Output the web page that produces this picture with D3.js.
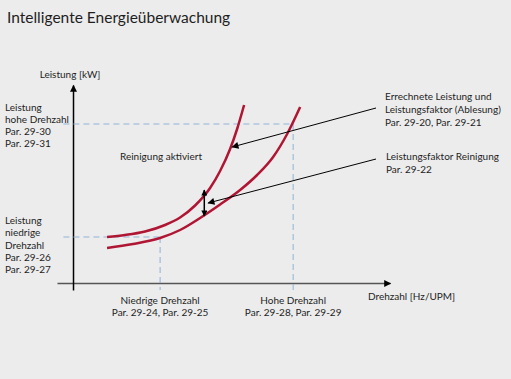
<!DOCTYPE html>
<html><head><meta charset="utf-8">
<script src="https://cdn.jsdelivr.net/npm/d3@7"></script>
<style>
body{margin:0;background:#ececec;}
svg{display:block;}
text{font-family:Lato,"Open Sans",sans-serif;fill:#1e1e1e;}
</style></head>
<body>
<script>
// ---- data (speed units 0..100, power units 0..100) ----
const curveActive = [[10.63,23],[16.25,24],[22.5,25.75],[28.75,29],[33.44,32.75],[38.13,38.75],[42.81,47.5],[45.94,56],[49.06,67],[51.25,77],[53.44,89]];
const curveNormal = [[10.63,17.5],[18.75,19.5],[27.19,22.5],[33.44,26.5],[39.69,32.5],[45.94,39.25],[52.19,46.5],[57.5,54],[62.5,63],[66.88,74.5],[70.94,88]];
const speedLevels = [27.2, 68.75];      // low, high speed
const powerLevels = [23, 79.5];         // low, high power
const title = "Intelligente Energieüberwachung";
const yAxisLabel = "Leistung [kW]";
const xAxisLabel = "Drehzahl [Hz/UPM]";
const leftLabelsHigh = ["Leistung","hohe Drehzahl","Par. 29-30","Par. 29-31"];
const leftLabelsLow = ["Leistung","niedrige","Drehzahl","Par. 29-26","Par. 29-27"];
const bottomLabelsLow = ["Niedrige Drehzahl","Par. 29-24, Par. 29-25"];
const bottomLabelsHigh = ["Hohe Drehzahl","Par. 29-28, Par. 29-29"];
const noteCalc = ["Errechnete Leistung und","Leistungsfaktor (Ablesung)","Par. 29-20, Par. 29-21"];
const noteClean = ["Leistungsfaktor Reinigung","Par. 29-22"];
const cleanLabel = "Reinigung aktiviert";
// annotation arrow targets (data units)
const noteCalcTarget = [49.7, 68];
const noteCleanTarget = [42.2, 40];
const gapArrow = [41.0, 46.5, 33.5]; // x, top, bottom

const W = 511, H = 379;
const svg = d3.select("body").append("svg").attr("width", W).attr("height", H);
svg.append("rect").attr("width", W).attr("height", H).attr("fill", "#ececec");

const x = d3.scaleLinear().domain([-5, 99]).range([57, 390]);
const y = d3.scaleLinear().domain([-3.5, 99]).range([290, 85]);

const defs = svg.append("defs");
function marker(id, w, h){
  defs.append("marker").attr("id", id).attr("viewBox","0 0 10 10").attr("refX",9).attr("refY",5)
    .attr("markerWidth", w).attr("markerHeight", h).attr("markerUnits","userSpaceOnUse")
    .attr("orient","auto-start-reverse")
    .append("path").attr("d","M0,0L10,5L0,10z").attr("fill","#000");
}
marker("ah", 10, 7);
marker("ahs", 9, 6);

svg.append("text").attr("x", 7).attr("y", 23).attr("font-size", 15.5).text(title);

// axes
const xAxis = d3.axisBottom(x).tickValues([]).tickSizeOuter(0);
const yAxis = d3.axisLeft(y).tickValues([]).tickSizeOuter(0);
const gx = svg.append("g").attr("transform", `translate(0,${y(0)})`).call(xAxis);
gx.select(".domain").attr("stroke","#555").attr("stroke-width",1.5).attr("marker-end","url(#ah)");
const gy = svg.append("g").attr("transform", `translate(${x(0)},0)`).call(yAxis);
gy.select(".domain").attr("stroke","#000").attr("stroke-width",1.5).attr("marker-end","url(#ah)");

// dashed guides
const dashCol = "#8fb3d6";
function dash(x1,y1,x2,y2){
  svg.append("line").attr("x1",x1).attr("y1",y1).attr("x2",x2).attr("y2",y2)
    .attr("stroke", dashCol).attr("stroke-dasharray","6,4");
}
dash(x(-3), y(powerLevels[1]), x(speedLevels[1]), y(powerLevels[1]));
dash(x(speedLevels[1]), y(powerLevels[1]), x(speedLevels[1]), y(-3.5));
dash(x(-3), y(powerLevels[0]), x(speedLevels[0]), y(powerLevels[0]));
dash(x(speedLevels[0]), y(powerLevels[0]), x(speedLevels[0]), y(-3.5));

// curves
const line = d3.line().x(d => x(d[0])).y(d => y(d[1])).curve(d3.curveMonotoneX);
[curveActive, curveNormal].forEach(c => {
  svg.append("path").attr("d", line(c)).attr("fill","none").attr("stroke","#b01533").attr("stroke-width",2.5);
});

// gap double arrow
svg.append("line").attr("x1", x(gapArrow[0])).attr("x2", x(gapArrow[0])).attr("y1", y(gapArrow[1])).attr("y2", y(gapArrow[2]))
  .attr("stroke","#000").attr("stroke-width",1.5)
  .attr("marker-start","url(#ahs)").attr("marker-end","url(#ahs)");

// annotation arrows
svg.append("line").attr("x1", 376).attr("y1", 108).attr("x2", x(noteCalcTarget[0])).attr("y2", y(noteCalcTarget[1]))
  .attr("stroke","#000").attr("stroke-width",1).attr("marker-end","url(#ah)");
svg.append("line").attr("x1", 376).attr("y1", 159).attr("x2", x(noteCleanTarget[0])).attr("y2", y(noteCleanTarget[1]))
  .attr("stroke","#000").attr("stroke-width",1).attr("marker-end","url(#ah)");

// labels
const fs = 10;
function block(lines, x0, y0, lh, anchor){
  const t = svg.append("text").attr("font-size", fs).attr("text-anchor", anchor || "start");
  lines.forEach((s,i) => t.append("tspan").attr("x", x0).attr("y", y0 + i*lh).text(s));
}
svg.append("text").attr("x", 70).attr("y", 78).attr("font-size", fs).attr("text-anchor","middle").text(yAxisLabel);
block(leftLabelsHigh, 5, 111, 12);
block(leftLabelsLow, 5, 224, 12.3);
block(bottomLabelsLow, x(speedLevels[0]), 304, 12, "middle");
block(bottomLabelsHigh, x(speedLevels[1]), 304, 12, "middle");
svg.append("text").attr("x", 368).attr("y", 300).attr("font-size", fs).text(xAxisLabel);
block(noteCalc, 385, 100, 13);
block(noteClean, 386, 160, 13);
svg.append("text").attr("x", 120).attr("y", 160).attr("font-size", fs).text(cleanLabel);
</script>
</body></html>
